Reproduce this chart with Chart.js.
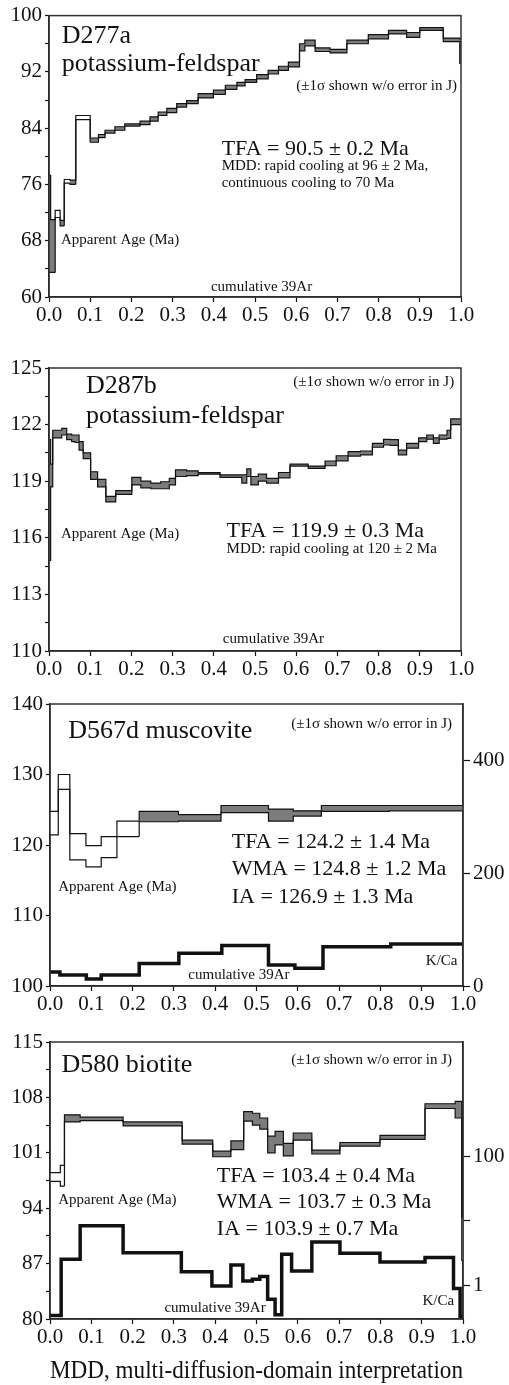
<!DOCTYPE html>
<html>
<head>
<meta charset="utf-8">
<script src="https://cdn.jsdelivr.net/npm/chart.js@4"></script>
<style>
  html, body { margin: 0; padding: 0; background: #fff; }
  body { position: relative; width: 509px; height: 1385px; overflow: hidden; }
  canvas { position: absolute; left: 0; }
</style>
</head>
<body>
<canvas id="p1" width="509" height="330" style="top:0px"></canvas>
<canvas id="p2" width="509" height="350" style="top:330px"></canvas>
<canvas id="p3" width="509" height="336" style="top:680px"></canvas>
<canvas id="p4" width="509" height="369" style="top:1016px"></canvas>
<script>
const xTicks = [0, 0.1, 0.2, 0.3, 0.4, 0.5, 0.6, 0.7, 0.8, 0.9, 1.0];

/* ---------- D277a potassium-feldspar ---------- */
const d277Edges = [0.004, 0.015, 0.027, 0.037, 0.051, 0.065, 0.100, 0.120, 0.136, 0.160,
  0.184, 0.221, 0.245, 0.265, 0.286, 0.310, 0.334, 0.362, 0.399, 0.428,
  0.456, 0.476, 0.504, 0.532, 0.557, 0.581, 0.608, 0.621, 0.646, 0.682,
  0.723, 0.775, 0.824, 0.868, 0.900, 0.957, 0.997, 1.000];
const d277Lo = [63.5, 63.5, 71.3, 70.1, 76.2, 76.0, 85.2, 82.0, 82.65, 83.3,
  83.7, 84.3, 84.5, 85.0, 85.8, 86.2, 87.0, 87.5, 88.3, 88.8,
  89.5, 90.0, 90.5, 91.0, 91.7, 92.2, 92.7, 95.0, 95.7, 94.9,
  94.7, 96.0, 96.7, 97.4, 96.9, 97.9, 96.3, 93.2];
const d277Hi = [77.3, 71.0, 72.3, 70.9, 76.7, 76.6, 85.8, 82.6, 83.1, 83.7,
  84.2, 84.6, 85.0, 85.6, 86.3, 86.8, 87.5, 87.9, 88.9, 89.4,
  90.1, 90.5, 90.9, 91.6, 92.2, 92.8, 93.4, 96.0, 96.5, 95.4,
  95.2, 96.5, 97.3, 97.9, 97.6, 98.3, 96.8, 96.7];
const d277Open = [2, 4, 6];
const d277Ticks = [60, 64, 68, 72, 76, 80, 84, 88, 92, 96, 100];
const d277Labels = [60, 68, 76, 84, 92, 100];

/* ---------- D287b potassium-feldspar ---------- */
const d287Edges = [0.004, 0.009, 0.031, 0.043, 0.055, 0.063, 0.073, 0.083, 0.101, 0.118,
  0.138, 0.162, 0.201, 0.223, 0.247, 0.271, 0.292, 0.307, 0.334, 0.362,
  0.415, 0.468, 0.480, 0.490, 0.508, 0.528, 0.557, 0.585, 0.629, 0.670,
  0.697, 0.726, 0.756, 0.785, 0.812, 0.828, 0.848, 0.868, 0.897, 0.917,
  0.933, 0.947, 0.966, 0.975, 1.000];
const d287Lo = [114.8, 118.7, 121.3, 121.45, 121.2, 121.1, 121.05, 120.65, 120.2, 119.1,
  118.7, 117.9, 118.3, 118.8, 118.65, 118.6, 118.6, 118.8, 119.25, 119.3,
  119.37, 119.2, 118.9, 119.25, 118.8, 119.0, 118.9, 119.18, 119.8, 119.68,
  119.82, 120.08, 120.33, 120.4, 120.8, 120.92, 120.9, 120.4, 120.75, 121.1,
  121.23, 121.0, 121.23, 121.27, 122.0];
const d287Hi = [121.2, 119.9, 121.7, 121.8, 121.5, 121.45, 121.45, 121.1, 120.5, 119.5,
  119.1, 118.2, 118.5, 119.2, 119.0, 118.9, 118.97, 119.15, 119.6, 119.55,
  119.45, 119.33, 119.33, 119.65, 119.25, 119.37, 119.15, 119.46, 119.9, 119.8,
  120.07, 120.35, 120.57, 120.6, 121.0, 121.22, 121.2, 120.65, 121.0, 121.3,
  121.45, 121.3, 121.45, 121.7, 122.3];
const d287Open = [];
const d287Ticks = [110, 111.5, 113, 114.5, 116, 117.5, 119, 120.5, 122, 123.5, 125];
const d287Labels = [110, 113, 116, 119, 122, 125];

/* ---------- D567d muscovite ---------- */
const d567Edges = [0.020, 0.048, 0.087, 0.124, 0.162, 0.216, 0.311, 0.414, 0.529, 0.589, 0.657, 0.821, 1.000];
const d567Lo = [121.45, 127.9, 117.9, 116.9, 118.2, 121.2, 123.3, 123.4, 124.6, 123.4, 124.1, 124.76, 124.85];
const d567Hi = [124.76, 130.0, 121.6, 119.9, 121.2, 123.4, 124.76, 124.3, 125.6, 125.1, 124.85, 125.6, 125.6];
const d567Open = [0, 1, 2, 3, 4, 5];
const d567Ticks = [100, 110, 120, 130, 140];
const d567Labels = [100, 110, 120, 130, 140];
const d567KcaEdges = [0.024, 0.088, 0.124, 0.216, 0.312, 0.416, 0.529, 0.593, 0.661, 0.825, 1.000];
const d567Kca = [25, 19.5, 12.4, 19.5, 40, 58, 71.6, 37.3, 31.4, 69.8, 74.6];
const d567KcaTicks = [0, 200, 400];
const d567KcaLabels = [0, 200, 400];

/* ---------- D580 biotite ---------- */
const d580Edges = [0.025, 0.035, 0.073, 0.177, 0.320, 0.394, 0.438, 0.469, 0.490, 0.508,
  0.527, 0.545, 0.565, 0.589, 0.634, 0.702, 0.799, 0.908, 0.981, 0.997, 1.000];
const d580Lo = [97.4, 96.8, 104.9, 105.06, 104.4, 102.1, 100.5, 101.4, 105.0, 104.5,
  104.0, 101.0, 102.0, 100.6, 102.6, 100.85, 101.85, 102.7, 106.6, 105.4, 87.4];
const d580Hi = [98.5, 99.4, 105.8, 105.5, 104.9, 102.6, 101.2, 102.5, 106.2, 106.0,
  105.4, 103.1, 103.7, 102.2, 103.5, 101.35, 102.3, 103.2, 107.2, 107.5, 92.9];
const d580Open = [0, 1, 20];
const d580Ticks = [80, 83.5, 87, 90.5, 94, 97.5, 101, 104.5, 108, 111.5, 115];
const d580Labels = [80, 87, 94, 101, 108, 115];
const d580KcaEdges = [0.027, 0.073, 0.177, 0.318, 0.392, 0.438, 0.467, 0.490, 0.508, 0.527,
  0.545, 0.561, 0.585, 0.634, 0.702, 0.799, 0.908, 0.977, 0.993, 1.000];
const d580Kca = [0.34, 2.54, 8.4, 3.2, 1.63, 0.98, 2.07, 1.17, 1.24, 1.37,
  0.61, 0.35, 3.03, 1.67, 4.7, 3.14, 2.3, 2.7, 0.89, 0.33];
const d580KcaTicks = [1, 10, 100];
const d580KcaLabels = [1, 100];

/* ---------- STYLE ---------- */

const SERIF = '"Liberation Serif", "Times New Roman", serif';
const INK = '#111';
const GREY = '#7c7c7c';

/* ---------- HELPERS ---------- */

// step right edges -> points for a stepped:'after' line starting at x = 0
function steps(edges, vals) {
  return [{ x: 0, y: vals[0] }].concat(edges.map((e, i) => ({ x: e, y: vals[i] })));
}

function spectrum(edges, lo, hi, open) {
  const base = { stepped: 'after', borderColor: INK, borderWidth: 1.2, pointRadius: 0, yAxisID: 'y' };
  return [
    { ...base, data: steps(edges, hi), fill: false },
    { ...base, data: steps(edges, lo), fill: '-1', backgroundColor: GREY,
      segment: { backgroundColor: c => open.includes(c.p1DataIndex - 1) ? '#fff' : undefined } }
  ];
}

function kcaLine(edges, vals) {
  return { data: steps(edges, vals), stepped: 'after', borderColor: INK, borderWidth: 3.5,
    borderJoinStyle: 'miter', pointRadius: 0, fill: false, yAxisID: 'k' };
}

function axisGrid(len) {
  return { drawOnChartArea: false, drawTicks: true, tickLength: len, tickColor: INK, tickWidth: 1.2 };
}
const axisBorder = { display: true, color: INK, width: 1.5 };
const tickFont = { family: SERIF, size: 21 };

/* ---------- PLUGINS ---------- */

const frame = {
  id: 'frame',
  afterDraw(chart) {
    const { ctx, chartArea: a } = chart;
    ctx.save();
    ctx.strokeStyle = '#333';
    ctx.lineWidth = 1.5;
    ctx.strokeRect(a.left, a.top, a.right - a.left, a.bottom - a.top);
    ctx.restore();
  }
};

function notesPlugin(items) {
  return {
    id: 'notes',
    afterDatasetsDraw(chart) {
      const { ctx, scales } = chart;
      ctx.save();
      ctx.fillStyle = INK;
      ctx.textBaseline = 'alphabetic';
      ctx.textAlign = 'left';
      items.forEach(n => {
        ctx.font = `${n.size}px ${SERIF}`;
        ctx.fillText(n.text, scales.x.getPixelForValue(n.x), scales.y.getPixelForValue(n.y));
      });
      ctx.restore();
    }
  };
}

/* ---------- CHART ---------- */

function panel(id, o) {
  const scales = {
    x: {
      type: 'linear', min: 0, max: 1,
      afterFit: s => { s.height = o.xh; },
      afterBuildTicks: s => { s.ticks = xTicks.map(v => ({ value: v })); },
      ticks: { color: INK, font: tickFont, padding: 1, maxRotation: 0, autoSkip: false, callback: v => v.toFixed(1) },
      grid: axisGrid(5),
      border: axisBorder,
      title: o.caption
        ? { display: true, text: o.caption, color: INK, font: { family: SERIF, size: 25, lineHeight: 1.12 }, padding: 0 }
        : { display: false }
    },
    y: {
      type: 'linear', position: 'left',
      min: o.yTicks[0], max: o.yTicks[o.yTicks.length - 1],
      afterFit: s => { s.width = o.yw; },
      afterBuildTicks: s => { s.ticks = o.yTicks.map(v => ({ value: v })); },
      ticks: { color: INK, font: tickFont, padding: 3, autoSkip: false, callback: v => o.yLabels.includes(v) ? String(v) : '' },
      grid: axisGrid(4),
      border: axisBorder
    }
  };
  if (o.k) {
    scales.k = {
      type: o.k.type, position: 'right', min: o.k.min, max: o.k.max,
      afterFit: s => { s.width = o.k.w; },
      afterBuildTicks: s => { s.ticks = o.k.ticks.map(v => ({ value: v })); },
      ticks: { color: INK, font: tickFont, padding: 3, autoSkip: false, callback: v => o.k.labels.includes(v) ? String(v) : '' },
      grid: axisGrid(7),
      border: axisBorder
    };
  }
  return new Chart(document.getElementById(id), {
    type: 'line',
    data: { datasets: o.datasets },
    options: {
      responsive: false,
      animation: false,
      events: [],
      layout: { padding: { top: o.top, right: o.k ? 0 : o.right, left: 0, bottom: 0 } },
      plugins: { legend: { display: false }, tooltip: { enabled: false } },
      scales
    },
    plugins: [frame, notesPlugin(o.notes)]
  });
}

/* ---------- INIT ---------- */

panel('p1', {
  top: 15, right: 48, xh: 33, yw: 49,
  yTicks: d277Ticks, yLabels: d277Labels,
  datasets: spectrum(d277Edges, d277Lo, d277Hi, d277Open),
  notes: [
    { text: 'D277a', x: 0.031, y: 96.1, size: 26 },
    { text: 'potassium-feldspar', x: 0.031, y: 92.1, size: 26 },
    { text: '(±1σ shown w/o error in J)', x: 0.6, y: 89.36, size: 15 },
    { text: 'TFA = 90.5 ± 0.2 Ma', x: 0.419, y: 80.24, size: 22 },
    { text: 'MDD: rapid cooling at 96 ± 2 Ma,', x: 0.419, y: 78.0, size: 15 },
    { text: 'continuous cooling to 70 Ma', x: 0.419, y: 75.65, size: 15 },
    { text: 'Apparent Age (Ma)', x: 0.029, y: 67.6, size: 15 },
    { text: 'cumulative 39Ar', x: 0.393, y: 60.85, size: 15 }
  ]
});

panel('p2', {
  top: 38, right: 48, xh: 29, yw: 49,
  yTicks: d287Ticks, yLabels: d287Labels,
  datasets: spectrum(d287Edges, d287Lo, d287Hi, d287Open),
  notes: [
    { text: 'D287b', x: 0.09, y: 123.66, size: 26 },
    { text: 'potassium-feldspar', x: 0.09, y: 122.1, size: 26 },
    { text: '(±1σ shown w/o error in J)', x: 0.593, y: 124.04, size: 15 },
    { text: 'TFA = 119.9 ± 0.3 Ma', x: 0.431, y: 116.06, size: 22 },
    { text: 'MDD: rapid cooling at 120 ± 2 Ma', x: 0.431, y: 115.18, size: 15 },
    { text: 'Apparent Age (Ma)', x: 0.029, y: 115.97, size: 15 },
    { text: 'cumulative 39Ar', x: 0.422, y: 110.41, size: 15 }
  ]
});

panel('p3', {
  top: 24, xh: 30, yw: 50,
  yTicks: d567Ticks, yLabels: d567Labels,
  k: { type: 'linear', min: 0, max: 500, w: 46, ticks: d567KcaTicks, labels: d567KcaLabels },
  datasets: spectrum(d567Edges, d567Lo, d567Hi, d567Open).concat([kcaLine(d567KcaEdges, d567Kca)]),
  notes: [
    { text: 'D567d muscovite', x: 0.044, y: 135.18, size: 26 },
    { text: '(±1σ shown w/o error in J)', x: 0.584, y: 136.6, size: 15 },
    { text: 'TFA = 124.2 ± 1.4 Ma', x: 0.44, y: 119.56, size: 22 },
    { text: 'WMA = 124.8 ± 1.2 Ma', x: 0.44, y: 115.77, size: 22 },
    { text: 'IA = 126.9 ± 1.3 Ma', x: 0.44, y: 111.83, size: 22 },
    { text: 'Apparent Age (Ma)', x: 0.02, y: 113.54, size: 15 },
    { text: 'cumulative 39Ar', x: 0.335, y: 100.95, size: 15 },
    { text: 'K/Ca', x: 0.91, y: 102.98, size: 15 }
  ]
});

panel('p4', {
  top: 26, xh: 66, yw: 50,
  yTicks: d580Ticks, yLabels: d580Labels,
  k: { type: 'logarithmic', min: 0.3, max: 6000, w: 46, ticks: d580KcaTicks, labels: d580KcaLabels },
  caption: 'MDD, multi-diffusion-domain interpretation',
  datasets: spectrum(d580Edges, d580Lo, d580Hi, d580Open).concat([kcaLine(d580KcaEdges, d580Kca)]),
  notes: [
    { text: 'D580 biotite', x: 0.028, y: 111.25, size: 26 },
    { text: '(±1σ shown w/o error in J)', x: 0.584, y: 112.22, size: 15 },
    { text: 'TFA = 103.4 ± 0.4 Ma', x: 0.404, y: 97.35, size: 22 },
    { text: 'WMA = 103.7 ± 0.3 Ma', x: 0.404, y: 93.99, size: 22 },
    { text: 'IA = 103.9 ± 0.7 Ma', x: 0.404, y: 90.61, size: 22 },
    { text: 'Apparent Age (Ma)', x: 0.02, y: 94.53, size: 15 },
    { text: 'cumulative 39Ar', x: 0.277, y: 80.92, size: 15 },
    { text: 'K/Ca', x: 0.902, y: 81.77, size: 15 }
  ]
});
</script>
</body>
</html>
